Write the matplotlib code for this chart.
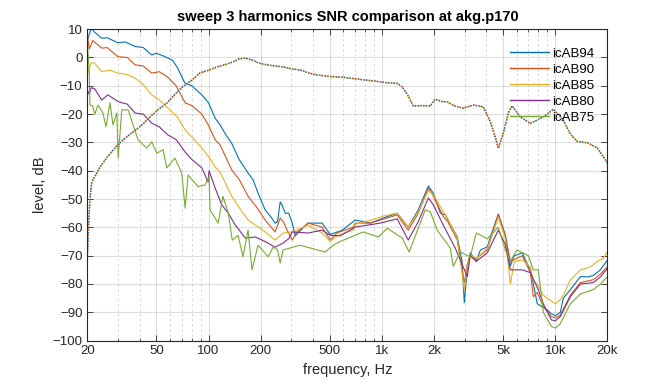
import numpy as np
import matplotlib.pyplot as plt
from matplotlib.ticker import FixedLocator, NullFormatter, LogLocator

plt.rcParams['font.family'] = ['Liberation Sans', 'DejaVu Sans']

# fundamental level (drawn dotted, same for every amp)
f_fund = [20, 20.3, 20.7, 21.2, 22.1, 23.7, 26.2, 29.7, 33, 36.7, 41, 46, 51, 57.7, 64, 71, 80, 89,
          100, 112, 125, 139, 150, 163, 180, 195, 218, 240, 270, 300, 338, 380, 424, 524, 600, 700,
          780, 900, 978, 1100, 1225, 1310, 1400, 1516, 1700, 1900, 2030, 2200, 2380, 2600, 2945,
          3365, 3840, 4220, 4500, 4690, 5010, 5400, 5640, 6280, 7180, 8530, 9730, 11100, 12200,
          13400, 15300, 17500, 20000]
lvl_fund = [-70, -60, -50, -44, -42, -38.6, -35, -31, -28.5, -26.3, -24, -21, -18.5, -16, -13, -10.3,
            -8, -5.5, -4.5, -3.3, -2.5, -1.5, -0.5, -0.2, -1, -2, -2.6, -3, -3.3, -4, -4.4, -5.5,
            -6.2, -6.8, -7, -7.5, -7.9, -8.3, -8.6, -9, -9.1, -10.4, -13, -17.1, -17, -17.1, -14.7,
            -15.5, -15.7, -17, -17.9, -16.8, -17.4, -22.7, -28, -32, -26.8, -19, -17.1, -21, -23.3,
            -21, -18.3, -22, -27, -29.7, -30.1, -32, -37.3]

f_94 = [20, 20.7, 21, 22, 24.2, 26, 30, 33, 37.7, 42, 47, 50, 55, 58.4, 62, 66, 73, 80, 91.5, 100,
        109, 116.6, 125, 136, 150, 169, 181, 193, 212, 230, 242, 250, 259, 265, 277, 290, 304, 316,
        340, 375, 452, 503, 590, 682, 701, 856, 1018, 1225, 1418, 1620, 1852, 1979, 2172, 2318,
        2718, 2900, 2986, 3106, 3231, 3500, 3700, 4053, 4300, 4692, 5148, 5506, 5800, 6454, 6900,
        7178, 7470, 7872, 9000, 9500, 10010, 10690, 11120, 12210, 13960, 15310, 16570, 18200, 20000]
lvl_94 = [6, 9, 10.4, 9, 6.8, 7, 5.2, 5.5, 3.9, 3.5, 0.9, 1.5, 0.5, -0.2, -1, -3.5, -9, -10, -13.2,
          -16, -21.4, -23.8, -27, -30.3, -36, -40.8, -43.3, -47.9, -53.8, -56.5, -58.5, -58, -51,
          -52, -55, -55, -58.5, -63, -61, -58.5, -58.5, -62.5, -61, -58, -57.4, -58.5, -56.7, -55,
          -59.9, -53.8, -45.4, -47.9, -55, -55.6, -63.4, -72, -86.6, -75, -69, -72, -68, -66.9,
          -62, -55.3, -62.6, -73.6, -70, -69, -73, -75, -80, -87, -89.2, -90.5, -91.2, -90, -85,
          -82, -77.4, -77.5, -77, -75, -71.5]

f_90 = [20, 20.5, 21.5, 24.2, 26, 30, 34, 37.7, 42, 47, 52, 58.4, 65, 73.3, 80, 91.5, 100, 109,
        116.6, 136, 150, 169, 190, 212, 242, 259, 270, 284, 304, 320, 375, 452, 503, 550, 682, 701,
        856, 1225, 1418, 1620, 1852, 1979, 2258, 2400, 2718, 2986, 3106, 3231, 3500, 4053, 4692,
        5148, 5506, 6454, 7178, 7470, 7872, 8530, 9500, 10010, 10690, 12210, 13960, 16570, 18200,
        20000]
lvl_90 = [8, 3, 6, 3.3, 3.5, 0.3, 0, -2.6, -3, -5.5, -5, -7, -10, -16, -17, -20, -24, -29, -30.9,
          -39.7, -43, -49, -53, -57.4, -61.6, -56.7, -58, -61, -64.5, -62, -58.5, -59.9, -64.5,
          -62, -59.9, -58.5, -58.5, -55.6, -61, -55, -46.1, -49, -56.2, -58, -64.5, -79.7, -73,
          -70, -71, -68, -55.5, -63, -72, -70, -76, -84.5, -83, -88, -91.5, -92, -91, -84, -79.5,
          -78.5, -76.5, -73.9]

f_85 = [20, 20.7, 21, 22, 24.2, 27, 30, 34, 37.7, 42, 47, 52, 58.4, 66, 73.3, 80, 91.5, 100, 109,
        116.6, 136, 150, 169, 212, 242, 270, 304, 375, 452, 503, 550, 682, 701, 856, 1018, 1225,
        1418, 1620, 1852, 1979, 2258, 2400, 2718, 2986, 3106, 3231, 3500, 4053, 4692, 5148, 5506,
        5800, 6454, 7178, 7470, 7872, 8530, 9500, 10010, 10690, 11120, 12210, 13960, 15930, 17480,
        18920, 20000]
lvl_85 = [-6, -3, -1.9, -2, -5, -4.5, -5.5, -6, -7.3, -9.5, -13.2, -15, -17.9, -21, -25.6, -28,
          -32, -35, -38.6, -40.5, -49, -53, -57.4, -61.6, -64.5, -62, -61.6, -59.2, -62, -65, -63,
          -61, -59, -57.5, -56, -55, -60, -54.5, -47, -48.5, -54.5, -57, -64, -82, -74, -70, -71,
          -67.5, -56.5, -64, -80, -72, -71.5, -74, -79, -80, -84, -86, -87, -85.5, -84, -78.6,
          -75, -74, -72, -70.9, -68.5]

f_80 = [20, 20.5, 21, 22, 24.2, 26.3, 30.1, 34, 37.7, 42, 47, 52, 58.4, 65, 73.3, 80, 91.5, 99.4,
        100.7, 109, 119, 130, 142, 163, 186, 212, 242, 270, 290, 304, 375, 452, 503, 574, 701, 978,
        1225, 1418, 1620, 1852, 1979, 2258, 2648, 3106, 3231, 3500, 4053, 4692, 5148, 5506, 6454,
        7178, 7980, 8530, 9500, 10010, 10690, 12210, 13960, 16570, 18200, 20000]
lvl_80 = [-11.5, -13, -10.7, -11, -15, -13.2, -15.6, -16.5, -19.6, -20, -23.2, -24.5, -27.4, -29,
          -33.4, -36, -39, -44, -40, -46, -52, -55, -59, -63.8, -63.4, -65, -67, -65.5, -64, -61.6,
          -62, -61, -62.8, -63, -59.9, -58.5, -57, -64.5, -58, -49.6, -52, -59.2, -67.3, -77.4,
          -70, -72, -69, -61, -66, -75, -75, -76, -82, -87, -92.7, -93, -91.5, -84.5, -80, -79.5,
          -77.5, -74.4]

f_75 = [20, 20.5, 20.7, 21.4, 22.1, 23, 24.6, 25.6, 27, 28.1, 29.6, 30.1, 31.6, 34.4, 36.7, 39.2,
        44, 47, 50.3, 54.7, 57.4, 64, 70, 73.3, 76.2, 87, 95.5, 100.7, 102, 113.6, 121, 130, 137,
        148, 158, 169, 178, 193, 221, 236, 250, 259, 269, 337, 471, 524, 574, 780, 953, 1074, 1310,
        1436, 1777, 1900, 2086, 2478, 2577, 2831, 3231, 3500, 4053, 4692, 5148, 5506, 6000, 6988,
        7470, 7980, 8530, 9500, 10010, 10690, 12210, 13960, 16570, 18200, 20000]
lvl_75 = [5, -5, -16.8, -17, -20, -16.8, -19.6, -24.5, -16, -23.8, -19.6, -35.5, -18.5, -18.5,
          -23.8, -29, -32, -29.8, -33.8, -32.6, -39, -35.5, -40.8, -53.2, -41.5, -45.6, -45, -42,
          -53.8, -58.5, -49, -55, -64.5, -62.8, -70.4, -61, -75, -66.3, -70.4, -66.9, -68, -72.6,
          -68, -66.3, -68.7, -66.3, -65, -61.6, -63.4, -60.3, -63.8, -68.7, -53.8, -54.5, -61,
          -67.3, -73.8, -68.7, -70.4, -62, -64, -60, -68, -72, -68, -70, -75, -75, -90, -95, -95.6,
          -94, -87, -83.5, -82, -80, -77.4]

names = ['icAB94', 'icAB90', 'icAB85', 'icAB80', 'icAB75']
colors = ['#0072BD', '#D95319', '#EDB120', '#7E2F8E', '#77AC30']
series = [(f_94, lvl_94), (f_90, lvl_90), (f_85, lvl_85), (f_80, lvl_80), (f_75, lvl_75)]

xticks = [20, 50, 100, 200, 500, 1000, 2000, 5000, 10000, 20000]
xlabels = ['20', '50', '100', '200', '500', '1k', '2k', '5k', '10k', '20k']

fig = plt.figure(figsize=(6.72, 3.84), dpi=100)
ax = fig.add_axes([0.13, 0.113, 0.774, 0.811])

handles = []
for (f, l), c, n in zip(series, colors, names):
    h, = ax.plot(f, l, color=c, lw=0.8, label=n)
    handles.append(h)
# dotted fundamentals: the five copies overlap, blue and orange end up on top
for c, off in [(colors[4], 0), (colors[3], 2), (colors[2], 1), (colors[0], 0), (colors[1], 2)]:
    ax.plot(f_fund, lvl_fund, color=c, lw=1.0, linestyle=(off, (1, 3)))

ax.set_xscale('log')
ax.set_xlim(20, 20000)
ax.set_ylim(-100, 10)
ax.set_yticks(np.arange(-100, 11, 10))
ax.xaxis.set_major_locator(FixedLocator(xticks))
ax.set_xticklabels(xlabels)
ax.xaxis.set_minor_locator(LogLocator(base=10, subs=np.arange(2, 10)))
ax.xaxis.set_minor_formatter(NullFormatter())

ax.grid(True, which='major', color='#262626', alpha=0.15, lw=0.8)
ax.grid(True, which='minor', axis='x', color='#262626', alpha=0.2, lw=0.6, linestyle=(0, (3, 3)))
ax.tick_params(which='both', direction='in', top=True, right=True, colors='#262626',
               labelsize=9.5)
ax.tick_params(which='major', length=4, width=0.6)
ax.tick_params(which='minor', length=2, width=0.5)
for s in ax.spines.values():
    s.set_color('#262626')
    s.set_linewidth(0.8)

ax.set_xlabel('frequency, Hz', fontsize=10.5, color='#262626')
ax.set_ylabel('level, dB', fontsize=10.5, color='#262626')
ax.set_title('sweep 3 harmonics SNR comparison at akg.p170', fontsize=10.5, fontweight='bold')

leg = ax.legend(handles=handles, loc='upper left', bbox_to_anchor=(0.812, 0.94), frameon=False,
                fontsize=9.5, handlelength=3.0, handletextpad=0.2, labelspacing=0.28,
                borderpad=0, borderaxespad=0)
for lh in leg.get_lines():
    lh.set_linewidth(1.0)

fig.savefig('out.png', dpi=100)
